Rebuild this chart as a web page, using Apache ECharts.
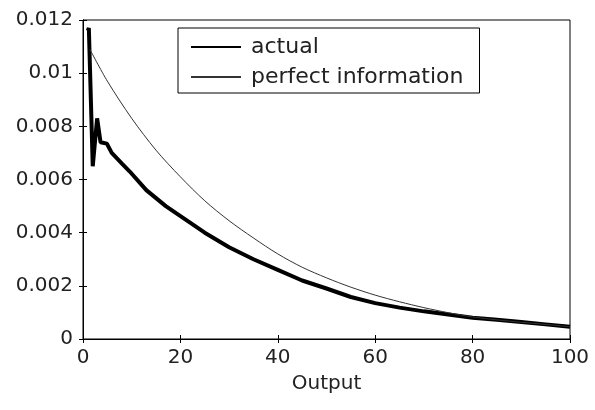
<!DOCTYPE html>
<html>
<head>
<meta charset="utf-8">
<script src="https://cdn.jsdelivr.net/npm/echarts@6/dist/echarts.min.js"></script>
<style>html,body{margin:0;padding:0;background:#fff;}#c{width:595px;height:410px;}</style>
</head>
<body>
<div id="c"></div>
<script>
const seriesNames = ['actual', 'perfect information'];
const xTicks = [0, 20, 40, 60, 80, 100];
const yTicks = [0, 0.002, 0.004, 0.006, 0.008, 0.01, 0.012];
const actualX = [1, 1.2, 2.0, 2.9, 3.6, 4.9, 5.9, 8, 9.6, 13, 17, 21, 25, 30, 35, 40, 45, 50, 55, 60, 65, 70, 75, 80, 85, 90, 95, 100];
const actualY = [0.0116, 0.0117, 0.0065, 0.0083, 0.0074, 0.00735, 0.0070, 0.0066, 0.0063, 0.0056, 0.0050, 0.0045, 0.0040, 0.00345, 0.0030, 0.0026, 0.0022, 0.0019, 0.00158, 0.00135, 0.00118, 0.00104, 0.00092, 0.00080, 0.00072, 0.00064, 0.00055, 0.00046];
const perfectX = [1.4, 5, 10, 15, 20, 25, 30, 35, 40, 45, 50, 55, 60, 65, 70, 75, 80, 85, 90, 95, 100];
const perfectY = [0.0109, 0.0097, 0.0083, 0.0071, 0.0061, 0.0052, 0.00445, 0.0038, 0.0032, 0.0027, 0.0023, 0.00195, 0.00165, 0.0014, 0.00118, 0.00099, 0.00083, 0.00072, 0.00063, 0.00055, 0.00046];

const actualData = actualX.map((x, i) => [x, actualY[i]]);
const perfectData = perfectX.map((x, i) => [x, perfectY[i]]);

const font = 'DejaVu Sans';
const txt = '#222';
const chart = echarts.init(document.getElementById('c'));
const fmtY = v => String(Number(v.toFixed(3)));
chart.setOption({
  animation: false,
  backgroundColor: '#fff',
  grid: { left: 83, right: 25, top: 20, bottom: 71, show: true, borderColor: '#000', borderWidth: 1 },
  legend: {
    orient: 'vertical', left: 178, top: 28,
    itemWidth: 50, itemHeight: 20, itemGap: 8,
    padding: [8, 16, 5, 12],
    borderColor: '#000', borderWidth: 1,
    itemStyle: { opacity: 0 },
    textStyle: { fontFamily: font, fontSize: 22, color: txt, padding: [0, 0, 0, 5] },
    data: seriesNames
  },
  xAxis: [{
    type: 'value', min: xTicks[0], max: xTicks[xTicks.length - 1], interval: 20,
    name: 'Output', nameLocation: 'middle', nameGap: 35,
    nameTextStyle: { fontFamily: font, fontSize: 20, color: txt },
    axisLine: { lineStyle: { color: '#000', width: 1 } },
    axisTick: { inside: true, length: 4, lineStyle: { color: '#000' } },
    axisLabel: { fontFamily: font, fontSize: 20, color: txt, margin: 9 },
    splitLine: { show: false }
  }, {
    type: 'value', position: 'top', min: xTicks[0], max: xTicks[xTicks.length - 1], interval: 20,
    axisLine: { show: true, lineStyle: { color: '#000' } },
    axisTick: { inside: true, length: 4, lineStyle: { color: '#000' } },
    axisLabel: { show: false }, splitLine: { show: false }
  }],
  yAxis: [{
    type: 'value', min: yTicks[0], max: yTicks[yTicks.length - 1], interval: 0.002,
    axisLine: { show: true, lineStyle: { color: '#000', width: 1 } },
    axisTick: { show: true, inside: true, length: 4, lineStyle: { color: '#000' } },
    axisLabel: { fontFamily: font, fontSize: 20, color: txt, margin: 10, formatter: fmtY },
    splitLine: { show: false }
  }, {
    type: 'value', position: 'right', min: yTicks[0], max: yTicks[yTicks.length - 1], interval: 0.002,
    axisLine: { show: true, lineStyle: { color: '#000' } },
    axisTick: { show: true, inside: true, length: 4, lineStyle: { color: '#000' } },
    axisLabel: { show: false }, splitLine: { show: false }
  }],
  series: [{
    name: seriesNames[0], type: 'line', data: actualData, symbol: 'none',
    lineStyle: { color: '#000', width: 4 }, itemStyle: { color: '#000' }
  }, {
    name: seriesNames[1], type: 'line', data: perfectData, symbol: 'none', smooth: 0.3,
    lineStyle: { color: '#333', width: 1 }, itemStyle: { color: '#333' }
  }]
});
</script>
</body>
</html>
